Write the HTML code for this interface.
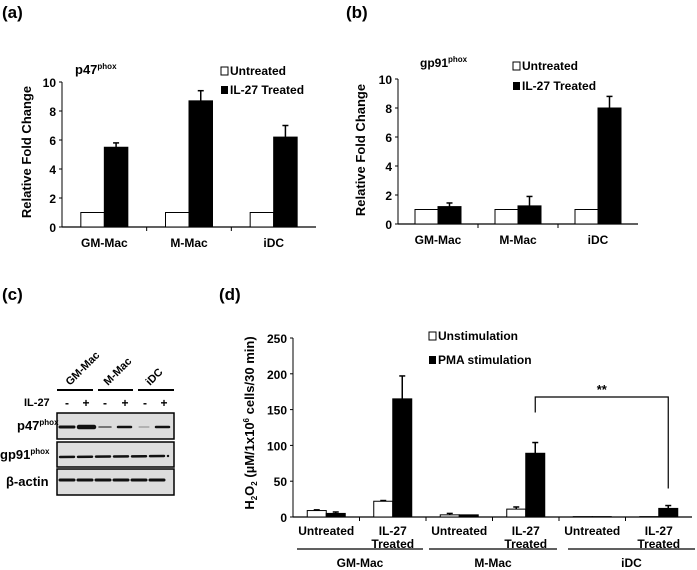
<!DOCTYPE html>
<html><head><meta charset="utf-8"><style>
body{margin:0;background:#fff;}
svg{display:block;font-family:"Liberation Sans",Arial,sans-serif;font-weight:bold;}
</style></head><body>
<svg width="697" height="570" viewBox="0 0 697 570">
<text x="2" y="18" font-size="17">(a)</text>
<text x="346" y="18" font-size="17">(b)</text>
<text x="2" y="300" font-size="17">(c)</text>
<text x="219" y="300" font-size="17">(d)</text>
<g id="pa"></g>
<g id="pb"></g>
<g id="pd"></g>
<g>
 <line x1="57" y1="390" x2="93" y2="390" stroke="#000" stroke-width="2"/>
 <line x1="98" y1="390" x2="133" y2="390" stroke="#000" stroke-width="2"/>
 <line x1="138" y1="390" x2="174" y2="390" stroke="#000" stroke-width="2"/>
 <text transform="translate(70,386) rotate(-45)" font-size="11">GM-Mac</text>
 <text transform="translate(108,386) rotate(-45)" font-size="11">M-Mac</text>
 <text transform="translate(150,386) rotate(-45)" font-size="11">iDC</text>
 <text x="24" y="406" font-size="11">IL-27</text>
 <g font-size="12" text-anchor="middle">
  <text x="67" y="407">-</text><text x="86" y="407">+</text><text x="105" y="407">-</text><text x="125" y="407">+</text><text x="145" y="407">-</text><text x="164" y="407">+</text>
 </g>
 <rect x="57" y="413" width="117" height="26" fill="#ddd" stroke="#000" stroke-width="1.5"/>
 <rect x="57" y="442" width="117" height="25" fill="#ddd" stroke="#000" stroke-width="1.5"/>
 <rect x="57" y="469" width="117" height="26" fill="#ddd" stroke="#000" stroke-width="1.5"/>
 <g stroke="#111" stroke-linecap="round">
  <line x1="60" y1="427" x2="74" y2="427" stroke-width="3"/><line x1="79" y1="427" x2="94" y2="427" stroke-width="4.5"/>
  <line x1="99" y1="427" x2="111" y2="427" stroke-width="1.5" stroke="#555"/><line x1="118" y1="427" x2="131" y2="427" stroke-width="2.5"/>
  <line x1="139" y1="427" x2="149" y2="427" stroke-width="1" stroke="#888"/><line x1="156" y1="427" x2="169" y2="427" stroke-width="2.5"/>
  <line x1="60" y1="457" x2="168" y2="456" stroke-width="2.5" stroke-dasharray="14,4"/>
  <line x1="60" y1="480" x2="168" y2="480" stroke-width="3" stroke-dasharray="14,4"/>
 </g>
 <text x="17" y="430" font-size="13">p47<tspan font-size="8" dy="-5">phox</tspan></text>
 <text x="0" y="459" font-size="13">gp91<tspan font-size="8" dy="-5">phox</tspan></text>
 <text x="6" y="486" font-size="13">β-actin</text>
</g>
</svg>
<script>
const NS="http://www.w3.org/2000/svg";
function mk(p,t,a,txt){const e=document.createElementNS(NS,t);for(const k in a)e.setAttribute(k,a[k]);if(txt!==undefined)e.textContent=txt;p.appendChild(e);return e;}

// Panel a data
const catsA=["GM-Mac","M-Mac","iDC"];
const untreatedA=[1,1,1];
const treatedA=[5.5,8.7,6.2];
const treatedErrA=[0.3,0.7,0.8];
// Panel b data
const untreatedB=[1,1,1];
const treatedB=[1.2,1.25,8.0];
const untreatedErrB=[0,0,0];
const treatedErrB=[0.25,0.65,0.8];
const ticksAB=[0,2,4,6,8,10];
// Panel d data
const catsD=["Untreated","IL-27 Treated","Untreated","IL-27 Treated","Untreated","IL-27 Treated"];
const groupsD=["GM-Mac","M-Mac","iDC"];
const unstimD=[9,22,3,11,0.5,0.5];
const unstimErrD=[1,1,2,3,0,0];
const pmaD=[5,165,3,89,0.5,12];
const pmaErrD=[2,32,0,15,0,4];
const ticksD=[0,50,100,150,200,250];

function barChart(g,o){
  const y=v=>o.y0-(v-o.min)/(o.max-o.min)*(o.y0-o.y1);
  const gw=(o.x1-o.x0)/o.n;
  mk(g,"line",{x1:o.x0,y1:o.y0,x2:o.x1,y2:o.y0,stroke:"#000","stroke-width":1.2});
  mk(g,"line",{x1:o.x0,y1:o.y0,x2:o.x0,y2:o.y1,stroke:"#000","stroke-width":1});
  for(let i=1;i<o.n;i++)mk(g,"line",{x1:o.x0+i*gw,y1:o.y0,x2:o.x0+i*gw,y2:o.y0+4,stroke:"#000"});
  o.ticks.forEach(t=>{mk(g,"line",{x1:o.x0-3,y1:y(t),x2:o.x0,y2:y(t),stroke:"#000"});
    const e=mk(g,"text",{x:o.x0-6,y:y(t)+5,"font-size":o.fs,"text-anchor":"end"},t);
    
    });
  for(let i=0;i<o.n;i++){
    const c=o.x0+gw*(i+0.5);
    [[o.w,o.we,"#fff"],[o.b,o.be,"#000"]].forEach((s,j)=>{
      const v=s[0][i],x=j?c:c-o.bw;
      const r=mk(g,"rect",{x:x,y:y(v),width:o.bw,height:o.y0-y(v),fill:s[2],stroke:"#000","stroke-width":1});
      
      
      const er=s[1][i];
      if(er>0){const xc=x+o.bw/2;
        mk(g,"line",{x1:xc,y1:y(v),x2:xc,y2:y(v+er),stroke:"#000","stroke-width":1.5});
        mk(g,"line",{x1:xc-3,y1:y(v+er),x2:xc+3,y2:y(v+er),stroke:"#000","stroke-width":1.5});}
    });
  }
  return {y,gw};
}

const pa=document.getElementById("pa");
barChart(pa,{x0:62,x1:316,y0:227,y1:82,min:0,max:10,n:3,bw:23.5,w:untreatedA,we:[0,0,0],b:treatedA,be:treatedErrA,ticks:ticksAB,fs:12});
catsA.forEach((c,i)=>{const e=mk(pa,"text",{x:62+84.7*(i+0.5),y:247,"font-size":12,"text-anchor":"middle"},c);
  
  });
mk(pa,"text",{transform:"translate(31,152) rotate(-90)","font-size":13,"text-anchor":"middle"},"Relative Fold Change");
const tA=mk(pa,"text",{x:75,y:74,"font-size":13},"p47");mk(tA,"tspan",{"font-size":8,dy:-5},"phox");

const pb=document.getElementById("pb");
barChart(pb,{x0:398,x1:638,y0:224,y1:79,min:0,max:10,n:3,bw:23,w:untreatedB,we:untreatedErrB,b:treatedB,be:treatedErrB,ticks:ticksAB,fs:12});
catsA.forEach((c,i)=>{const e=mk(pb,"text",{x:398+80*(i+0.5),y:244,"font-size":12,"text-anchor":"middle"},c);
  
  });
mk(pb,"text",{transform:"translate(365,150) rotate(-90)","font-size":13,"text-anchor":"middle"},"Relative Fold Change");
const tB=mk(pb,"text",{x:420,y:67,"font-size":12},"gp91");mk(tB,"tspan",{"font-size":8,dy:-5},"phox");

function legend(g,x,y1,y2,l1,l2,fs){
  mk(g,"rect",{x:x,y:y1-8,width:7,height:8,fill:"#fff",stroke:"#000"});
  mk(g,"text",{x:x+9,y:y1,"font-size":fs},l1);
  mk(g,"rect",{x:x,y:y2-8,width:7,height:8,fill:"#000"});
  mk(g,"text",{x:x+9,y:y2,"font-size":fs},l2);
}
legend(pa,221,75,94,"Untreated","IL-27 Treated",12);
legend(pb,513,70,90,"Untreated","IL-27 Treated",12);

const pd=document.getElementById("pd");
const D=barChart(pd,{x0:293,x1:692,y0:517,y1:338,min:0,max:250,n:6,bw:19,w:unstimD,we:unstimErrD,b:pmaD,be:pmaErrD,ticks:ticksD,fs:12});
catsD.forEach((c,i)=>{const cx=293+D.gw*(i+0.5);
  const parts=c==="Untreated"?["Untreated"]:["IL-27","Treated"];
  parts.forEach((p,k)=>{const e=mk(pd,"text",{x:cx,y:535+k*13,"font-size":12,"text-anchor":"middle"},p);
    
    });});
const ul=[[297,423],[429,557],[568,695]];
groupsD.forEach((gname,i)=>{mk(pd,"line",{x1:ul[i][0],y1:549,x2:ul[i][1],y2:549,stroke:"#000","stroke-width":1.2});
  const e=mk(pd,"text",{x:(ul[i][0]+ul[i][1])/2,y:567,"font-size":12,"text-anchor":"middle"},gname);
  
  });
const yt=mk(pd,"text",{transform:"translate(254,423) rotate(-90)","font-size":13,"text-anchor":"middle"},"H");
mk(yt,"tspan",{"font-size":8,dy:3},"2");mk(yt,"tspan",{dy:-3},"O");mk(yt,"tspan",{"font-size":8,dy:3},"2");
mk(yt,"tspan",{dy:-3}," (µM/1x10");mk(yt,"tspan",{"font-size":8,dy:-5},"6");mk(yt,"tspan",{dy:5}," cells/30 min)");
legend(pd,429,340,364,"Unstimulation","PMA stimulation",12);
const bx1=293+D.gw*3.5+9.5, bx2=293+D.gw*5.5+9.5;
mk(pd,"polyline",{points:`${bx1},${D.y(pmaD[3]+pmaErrD[3])-30} ${bx1},397 ${bx2},397 ${bx2},${D.y(pmaD[5]+pmaErrD[5])-17}`,fill:"none",stroke:"#000","stroke-width":1.2});
mk(pd,"text",{x:(bx1+bx2)/2,y:394,"font-size":13,"text-anchor":"middle"},"**");
</script>
</body></html>
